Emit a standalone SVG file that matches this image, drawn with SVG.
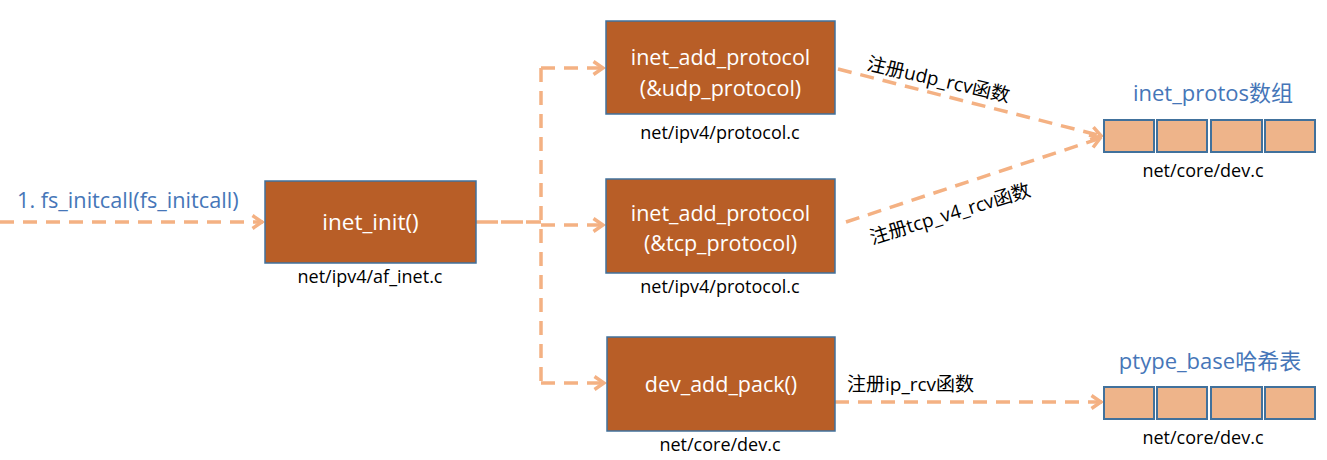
<svg xmlns="http://www.w3.org/2000/svg" width="1327" height="460" viewBox="0 0 1327 460">
<style>
text{font-family:"Open Sans","Noto Sans CJK SC",sans-serif}
.box{fill:#B85E27;stroke:#41719C;stroke-width:1.5}
.cell{fill:#EEB48A;stroke:#41719C;stroke-width:2}
.bt{fill:#fff;font-size:21.5px;text-anchor:middle}
.lb{fill:#000;font-size:18px;text-anchor:middle}
.tt{fill:#4676B8;font-size:22px;text-anchor:middle}
.el{fill:#000;font-size:19px}
.dash{fill:none;stroke:#F4B183;stroke-width:3.5;stroke-dasharray:14 9}
</style>
<defs>
<marker id="ah" viewBox="0 0 14 16" refX="12.5" refY="8" markerWidth="14" markerHeight="16" markerUnits="userSpaceOnUse" orient="auto">
<polyline points="2,1.5 11.5,8 2,14.5" fill="none" stroke="#F4B183" stroke-width="3.5"/>
</marker>
</defs>
<g id="connectors">
<path class="dash" d="M0 222 H263" marker-end="url(#ah)"/>
<path class="dash" d="M476 222 H541" style="stroke-dasharray:22 3"/>
<path class="dash" d="M541 68 V383"/>
<path class="dash" d="M541 68 H604" marker-end="url(#ah)"/>
<path class="dash" d="M541 225 H604" marker-end="url(#ah)"/>
<path class="dash" d="M541 383 H605" marker-end="url(#ah)"/>
<path class="dash" d="M838 69 L1102 136" marker-end="url(#ah)"/>
<path class="dash" d="M846 222 L1101 138" marker-end="url(#ah)"/>
<path class="dash" d="M835 402 H1102" marker-end="url(#ah)"/>
<text class="el" transform="translate(937 86) rotate(13)" text-anchor="middle">注册udp_rcv函数</text>
<text class="el" transform="translate(952 220) rotate(-17)" text-anchor="middle">注册tcp_v4_rcv函数</text>
<text class="el" x="847" y="391">注册ip_rcv函数</text>
</g>
<g id="fs_initcall">
<text x="17" y="208" style="fill:#4676B8;font-size:21.7px">1. fs_initcall(fs_initcall)</text>
</g>
<g id="inet_init">
<rect class="box" x="265" y="181" width="211" height="82"/>
<text class="bt" x="370.5" y="229.5" style="font-size:22.5px">inet_init()</text>
<text class="lb" x="370" y="283">net/ipv4/af_inet.c</text>
</g>
<g id="udp_protocol">
<rect class="box" x="606" y="21" width="229" height="93"/>
<text class="bt" x="720.5" y="64.5">inet_add_protocol</text>
<text class="bt" x="720.5" y="95.5">(&amp;udp_protocol)</text>
<text class="lb" x="720" y="139">net/ipv4/protocol.c</text>
</g>
<g id="tcp_protocol">
<rect class="box" x="606" y="179" width="229" height="94"/>
<text class="bt" x="720.5" y="220.5">inet_add_protocol</text>
<text class="bt" x="720.5" y="250.5">(&amp;tcp_protocol)</text>
<text class="lb" x="720" y="293">net/ipv4/protocol.c</text>
</g>
<g id="dev_add_pack">
<rect class="box" x="607" y="337" width="228" height="94"/>
<text class="bt" x="721" y="391.5">dev_add_pack()</text>
<text class="lb" x="720" y="451">net/core/dev.c</text>
</g>
<g id="inet_protos">
<text class="tt" x="1213" y="101">inet_protos数组</text>
<rect class="cell" x="1104" y="120" width="50" height="32"/>
<rect class="cell" x="1157" y="120" width="50" height="32"/>
<rect class="cell" x="1211" y="120" width="51" height="32"/>
<rect class="cell" x="1265" y="120" width="50" height="32"/>
<text class="lb" x="1203" y="177">net/core/dev.c</text>
</g>
<g id="ptype_base">
<text class="tt" x="1210" y="369">ptype_base哈希表</text>
<rect class="cell" x="1104" y="387" width="50" height="32"/>
<rect class="cell" x="1157" y="387" width="50" height="32"/>
<rect class="cell" x="1211" y="387" width="51" height="32"/>
<rect class="cell" x="1265" y="387" width="50" height="32"/>
<text class="lb" x="1203" y="444">net/core/dev.c</text>
</g>
</svg>
